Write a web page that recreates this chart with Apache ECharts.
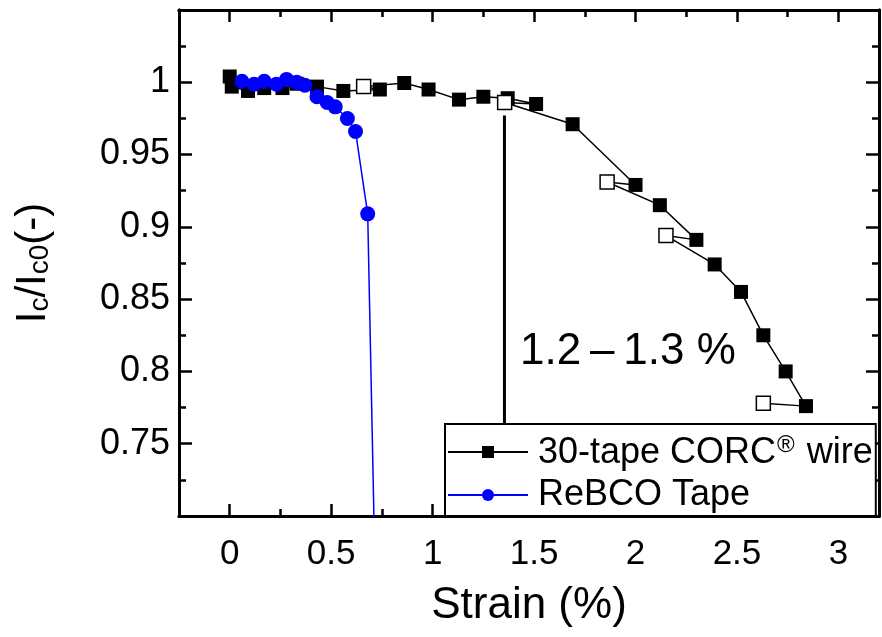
<!DOCTYPE html>
<html>
<head>
<meta charset="utf-8">
<script src="https://cdn.jsdelivr.net/npm/echarts@6/dist/echarts.min.js"></script>
<style>html,body{margin:0;padding:0;background:#fff}#c{width:882px;height:637px}</style>
</head>
<body>
<div id="c"></div>
<script>
// CORC wire data in measurement order (open = unloaded measurement)
const corcStrain = [0, 0.01, 0.09, 0.17, 0.26, 0.33, 0.43, 0.56, 0.74, 0.66, 0.86, 0.98, 1.13, 1.25, 1.37, 1.51, 1.355, 1.69, 2.0, 1.86, 2.12, 2.30, 2.15, 2.39, 2.52, 2.63, 2.74, 2.84, 2.63];
const corcIc     = [1.004, 0.997, 0.994, 0.996, 0.996, 0.999, 0.997, 0.994, 0.995, 0.997, 0.9995, 0.995, 0.988, 0.990, 0.989, 0.985, 0.986, 0.971, 0.929, 0.931, 0.915, 0.891, 0.894, 0.874, 0.855, 0.825, 0.800, 0.776, 0.778];
const corcOpen   = [0, 0, 0, 0, 0, 0, 0, 0, 0, 1, 0, 0, 0, 0, 0, 0, 1, 0, 0, 1, 0, 0, 1, 0, 0, 0, 0, 0, 1];
// ReBCO tape data
const tapeStrain = [0.06, 0.12, 0.17, 0.23, 0.28, 0.33, 0.37, 0.43, 0.48, 0.52, 0.58, 0.62, 0.68, 0.74];
const tapeIc     = [1.0007, 0.9986, 1.0007, 0.9986, 1.002, 1.000, 0.998, 0.990, 0.986, 0.983, 0.975, 0.966, 0.909, 0.50];
// Annotation line
const annotStrain = [1.354, 1.354];
const annotIc = [0.977, 0.74];
const annotText = '1.2\u2009–\u20091.3 %';
// Axis ticks
const xMajor = [0, 0.5, 1, 1.5, 2, 2.5, 3];
const xMinor = [0.25, 0.75, 1.25, 1.75, 2.25, 2.75];
const yMajor = [0.75, 0.8, 0.85, 0.9, 0.95, 1.0];
const yMinor = [0.725, 0.775, 0.825, 0.875, 0.925, 0.975, 1.025];
const xRange = [-0.25, 3.2];
const yRange = [0.70, 1.05];

const FONT = 'Liberation Sans';
const chart = echarts.init(document.getElementById('c'), null, {renderer: 'canvas'});

function xAx(pos, ticks, len, labels, extra) {
  return Object.assign({
    type: 'value', position: pos, min: xRange[0], max: xRange[1],
    axisLine: {show: true, onZero: false, lineStyle: {color: '#000', width: 3}},
    axisTick: {show: true, inside: true, length: len, customValues: ticks, lineStyle: {color: '#000', width: 2.5}},
    axisLabel: labels ? {show: true, customValues: ticks, color: '#000', fontFamily: FONT, fontSize: 35, lineHeight: 40, margin: 18} : {show: false},
    splitLine: {show: false}
  }, extra || {});
}
function yAx(pos, ticks, len, labels, extra) {
  return Object.assign({
    type: 'value', position: pos, min: yRange[0], max: yRange[1],
    axisLine: {show: true, onZero: false, lineStyle: {color: '#000', width: 3}},
    axisTick: {show: true, inside: true, length: len, customValues: ticks, lineStyle: {color: '#000', width: 2.5}},
    axisLabel: labels ? {show: true, customValues: ticks, color: '#000', fontFamily: FONT, fontSize: 36, margin: 9,
      formatter: v => String(+v.toFixed(3))} : {show: false},
    splitLine: {show: false}
  }, extra || {});
}

const corcData = corcStrain.map((x, i) => corcOpen[i]
  ? {value: [x, corcIc[i]], itemStyle: {color: '#fff', borderColor: '#000', borderWidth: 1.5}}
  : {value: [x, corcIc[i]]});

chart.setOption({
  animation: false,
  backgroundColor: '#fff',
  textStyle: {fontFamily: FONT},
  grid: {left: 179, right: 3, top: 10, bottom: 115, containLabel: false},
  xAxis: [
    xAx('bottom', xMajor, 12, true, {name: 'Strain (%)', nameLocation: 'middle', nameGap: 64,
      nameTextStyle: {color: '#000', fontFamily: FONT, fontSize: 44, lineHeight: 52}}),
    xAx('bottom', xMinor, 7, false),
    xAx('top', xMajor, 12, false),
    xAx('top', xMinor, 7, false)
  ],
  yAxis: [
    yAx('left', yMajor, 13, true, {name: '{m|I}{s|c}{m|/I}{s|c0}{m|(-)}', nameLocation: 'middle', nameRotate: 90, nameGap: 125,
      nameTextStyle: {color: '#000', fontFamily: FONT, rich: {
        m: {fontSize: 42, lineHeight: 50, verticalAlign: 'bottom', fontFamily: FONT, color: '#000'},
        s: {fontSize: 28, lineHeight: 18, verticalAlign: 'bottom', fontFamily: FONT, color: '#000'}
      }}}),
    yAx('left', yMinor, 7, false),
    yAx('right', yMajor, 13, false),
    yAx('right', yMinor, 7, false)
  ],
  legend: {
    data: ['30-tape CORC® wire', 'ReBCO Tape'],
    orient: 'vertical', left: 445, top: 424,
    padding: [9, 3, 2, 2], itemGap: 5, itemWidth: 80, itemHeight: 15,
    backgroundColor: '#fff', borderColor: '#000', borderWidth: 2,
    textStyle: {color: '#000', fontFamily: FONT, fontSize: 36, lineHeight: 38, padding: [0, 0, 0, 5],
      rich: {
        t: {fontSize: 36, lineHeight: 38, fontFamily: FONT, color: '#000', verticalAlign: 'bottom'},
        r: {fontSize: 24, lineHeight: 24, fontFamily: FONT, color: '#000', verticalAlign: 'top', padding: [0, 2, 0, 1]}
      }},
    formatter: n => n === '30-tape CORC® wire' ? '{t|30-tape CORC}{r|®}{t| wire}' : n,
    z: 10
  },
  series: [
    {
      name: 'annot', type: 'line', xAxisIndex: 0, yAxisIndex: 0,
      data: annotStrain.map((x, i) => [x, annotIc[i]]),
      symbol: 'none', lineStyle: {color: '#000', width: 3}, silent: true, z: 1
    },
    {
      name: '30-tape CORC® wire', type: 'line', xAxisIndex: 0, yAxisIndex: 0,
      data: corcData, symbol: 'rect', symbolSize: 14, showAllSymbol: true,
      itemStyle: {color: '#000'}, lineStyle: {color: '#000', width: 1.5}, z: 3
    },
    {
      name: 'ReBCO Tape', type: 'line', xAxisIndex: 0, yAxisIndex: 0,
      data: tapeStrain.map((x, i) => [x, tapeIc[i]]), symbol: 'circle', symbolSize: 15, showAllSymbol: true,
      itemStyle: {color: '#0000ff'}, lineStyle: {color: '#0000ff', width: 1.5}, z: 4, clip: true
    }
  ],
  graphic: [{
    type: 'text', left: 520, top: 330, z: 5,
    style: {text: annotText, fontFamily: FONT, fontSize: 44, fill: '#000'}
  }]
});
</script>
</body>
</html>
